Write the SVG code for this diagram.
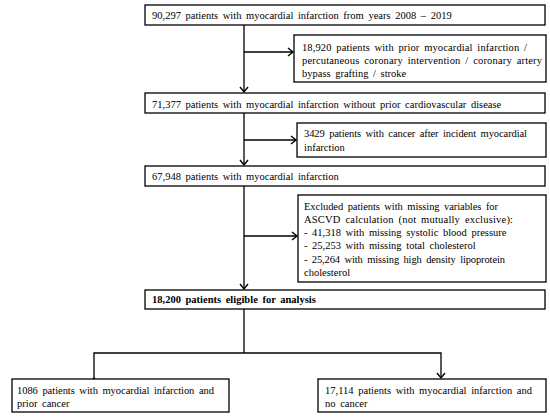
<svg xmlns="http://www.w3.org/2000/svg" width="550" height="418" viewBox="0 0 550 418">
<defs>
<style>
.box{fill:#fff;stroke:#000;stroke-width:1.3}
.t{font-family:"Liberation Serif","Times New Roman",serif;font-size:10.5px;fill:#000;word-spacing:2px}
.b{font-weight:bold}
.c{fill:none;stroke:#000;stroke-width:1.3}
</style>
<marker id="ah" markerUnits="userSpaceOnUse" markerWidth="12" markerHeight="12" refX="6" refY="5" orient="auto" viewBox="0 0 12 10">
<path d="M1,1 L6,5 L1,9" fill="none" stroke="#000" stroke-width="1.4"/>
</marker>
</defs>
<rect width="550" height="418" fill="#fff"/>
<g id="connectors">
<path class="c" d="M244,25 V92" marker-end="url(#ah)"/>
<path class="c" d="M244,52 H293" marker-end="url(#ah)"/>
<path class="c" d="M244,113 V165" marker-end="url(#ah)"/>
<path class="c" d="M244,140 H296" marker-end="url(#ah)"/>
<path class="c" d="M244,186 V289" marker-end="url(#ah)"/>
<path class="c" d="M244,236 H297" marker-end="url(#ah)"/>
<path class="c" d="M244,309 V353"/>
<path class="c" d="M94,378 V353 H441 V378" marker-start="url(#ah)" marker-end="url(#ah)"/>
</g>
<g id="n1"><rect class="box" x="145" y="5" width="400" height="20"/>
<text class="t" x="152" y="19">90,297 patients with myocardial infarction from years 2008 – 2019</text></g>
<g id="n2"><rect class="box" x="294" y="35" width="252" height="47"/>
<text class="t" x="302" y="50.5" textLength="225" lengthAdjust="spacing">18,920 patients with prior myocardial infarction /</text>
<text class="t" x="302" y="64" textLength="240" lengthAdjust="spacing">percutaneous coronary intervention / coronary artery</text>
<text class="t" x="302" y="77">bypass grafting / stroke</text></g>
<g id="n3"><rect class="box" x="145" y="93" width="400" height="20"/>
<text class="t" x="152" y="107.5">71,377 patients with myocardial infarction without prior cardiovascular disease</text></g>
<g id="n4"><rect class="box" x="297" y="123" width="249" height="34"/>
<text class="t" x="304" y="137" textLength="223" lengthAdjust="spacing">3429 patients with cancer after incident myocardial</text>
<text class="t" x="304" y="151">infarction</text></g>
<g id="n5"><rect class="box" x="145" y="166" width="400" height="20"/>
<text class="t" x="152" y="180">67,948 patients with myocardial infarction</text></g>
<g id="n6"><rect class="box" x="298" y="195" width="248" height="87"/>
<text class="t" x="304" y="209.5" textLength="194" lengthAdjust="spacing">Excluded patients with missing variables for</text>
<text class="t" x="304" y="223" textLength="209" lengthAdjust="spacing">ASCVD calculation (not mutually exclusive):</text>
<text class="t" x="304" y="236">- 41,318 with missing systolic blood pressure</text>
<text class="t" x="304" y="249">- 25,253 with missing total cholesterol</text>
<text class="t" x="304" y="262.5" textLength="201" lengthAdjust="spacing">- 25,264 with missing high density lipoprotein</text>
<text class="t" x="304" y="276">cholesterol</text></g>
<g id="n7"><rect class="box" x="145" y="290" width="400" height="19"/>
<text class="t b" x="152" y="303">18,200 patients eligible for analysis</text></g>
<g id="n8"><rect class="box" x="12" y="379" width="217" height="33"/>
<text class="t" x="17" y="393.5" textLength="197" lengthAdjust="spacing">1086 patients with myocardial infarction and</text>
<text class="t" x="17" y="407">prior cancer</text></g>
<g id="n9"><rect class="box" x="318" y="379" width="228" height="33"/>
<text class="t" x="325" y="393.5" textLength="207" lengthAdjust="spacing">17,114 patients with myocardial infarction and</text>
<text class="t" x="325" y="407">no cancer</text></g>
</svg>
